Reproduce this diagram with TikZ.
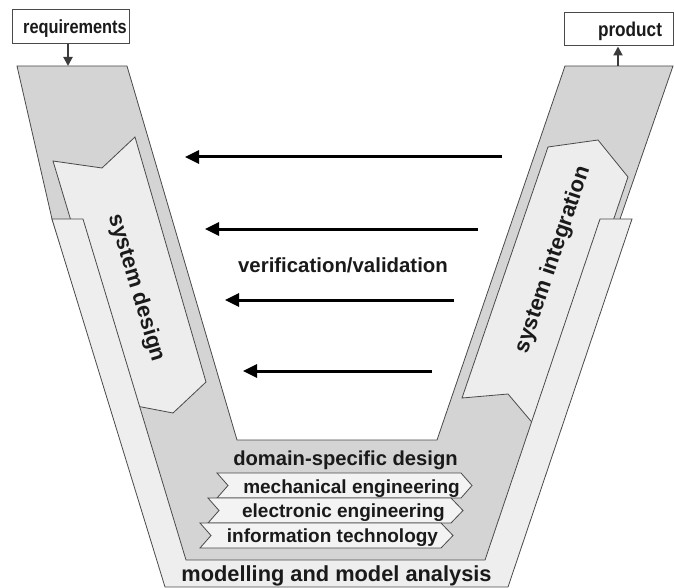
\documentclass[tikz,border=0pt]{standalone}
\usepackage{fontspec}
\usepackage{graphicx}
\setmainfont{Liberation Sans}
\usetikzlibrary{arrows.meta}
\definecolor{bandgray}{HTML}{D4D4D4}
\definecolor{lightgray2}{HTML}{EEEEEE}
\definecolor{arrowfill}{HTML}{EDEDED}
\definecolor{bannerfill}{HTML}{F3F3F3}
\definecolor{linegray}{HTML}{4A4A4A}
\definecolor{txt}{HTML}{1A1A1A}
\begin{document}
\begin{tikzpicture}[x=1pt,y=-1pt,
  outl/.style={draw=linegray, line width=0.8pt, line join=miter},
  boxnode/.style={draw=linegray, line width=1pt, fill=white, inner sep=0pt},
  lbl/.style={text=txt, inner sep=0pt, anchor=base},
  fs/.style={font=\bfseries\fontsize{#1}{#1}\selectfont},
  vv/.style={line width=3pt, -{Triangle[length=14pt,width=13pt]}},
  smallarrow/.style={draw=linegray!80!black, line width=2pt, -{Triangle[length=9pt,width=9pt]}},
]
\useasboundingbox (0,0) rectangle (674,588);

% middle gray V band
\path[outl, fill=bandgray] (17,66) -- (127,66) -- (237,440) -- (437,440) -- (565,66) -- (673,66)
  -- (620,219) -- (505,575) -- (168,575) -- (52,219) -- cycle;

% system design arrow
\path[outl, fill=arrowfill] (53,161) -- (102,168) -- (135,137) -- (206,382) -- (173,413) -- (126,404) -- cycle;
% system integration arrow
\path[outl, fill=arrowfill] (548,147) -- (598,140) -- (628,177) -- (541,433) -- (508,394) -- (462,398) -- cycle;

% outer light V (modelling and model analysis)
\path[outl, fill=lightgray2] (52,219) -- (83,219) -- (186,560) -- (485,560) -- (600,219) -- (632,219)
  -- (508,587) -- (165,587) -- cycle;

% rotated labels
\node[text=txt, inner sep=0pt, fs=22, rotate=-73.3] (sd) at (136,288) {system design};
\node[text=txt, inner sep=0pt, fs=22, rotate=71.4] (si) at (553,260) {system integration};

% banners
\path[outl, fill=bannerfill] (217,473) -- (461,473) -- (472,485.5) -- (461,498) -- (217,498) -- (228,485.5) -- cycle;
\path[outl, fill=bannerfill] (208,498) -- (451,498) -- (463,510.5) -- (451,523) -- (208,523) -- (219,510.5) -- cycle;
\path[outl, fill=bannerfill] (200,523) -- (441,523) -- (453,535.5) -- (441,548) -- (200,548) -- (211,535.5) -- cycle;

\node[lbl, fs=20.2] (dsd) at (345.5,465) {domain-specific design};
\node[lbl, fs=19] (me) at (351.5,493.5) {mechanical engineering};
\node[lbl, fs=19] (ee) at (343.5,517.5) {electronic engineering};
\node[lbl, fs=19] (it) at (332.5,542) {information technology};
\node[lbl, fs=21.8] (mma) at (336.5,581) {modelling and model analysis};

% verification arrows
\coordinate (a1s) at (502,157); \coordinate (a1e) at (185,157);
\coordinate (a2s) at (478,229); \coordinate (a2e) at (205,229);
\coordinate (a3s) at (454,300); \coordinate (a3e) at (225,300);
\coordinate (a4s) at (432,371); \coordinate (a4e) at (243,371);
\draw[vv] (a1s) -- (a1e);
\draw[vv] (a2s) -- (a2e);
\draw[vv] (a3s) -- (a3e);
\draw[vv] (a4s) -- (a4e);
\node[lbl, fs=20.4] (vv) at (343,272) {verification/validation};

% requirements and product
\node[boxnode, minimum width=117pt, minimum height=34pt] (req) at (70.5,27) {};
\node[lbl, fs=19] (reqt) at (75,33.5) {\scalebox{0.86}[1]{requirements}};
\coordinate (bandL) at (68,66);
\draw[smallarrow] ([xshift=-2.5pt]req.south) -- (bandL);

\node[boxnode, minimum width=109pt, minimum height=33pt] (prod) at (618.5,29.5) {};
\node[lbl, fs=20] (prodt) at (630,36.5) {\scalebox{0.86}[1]{product}};
\coordinate (bandR) at (618,66);
\draw[smallarrow] (bandR) -- (prod.south -| bandR);
\end{tikzpicture}
\end{document}
